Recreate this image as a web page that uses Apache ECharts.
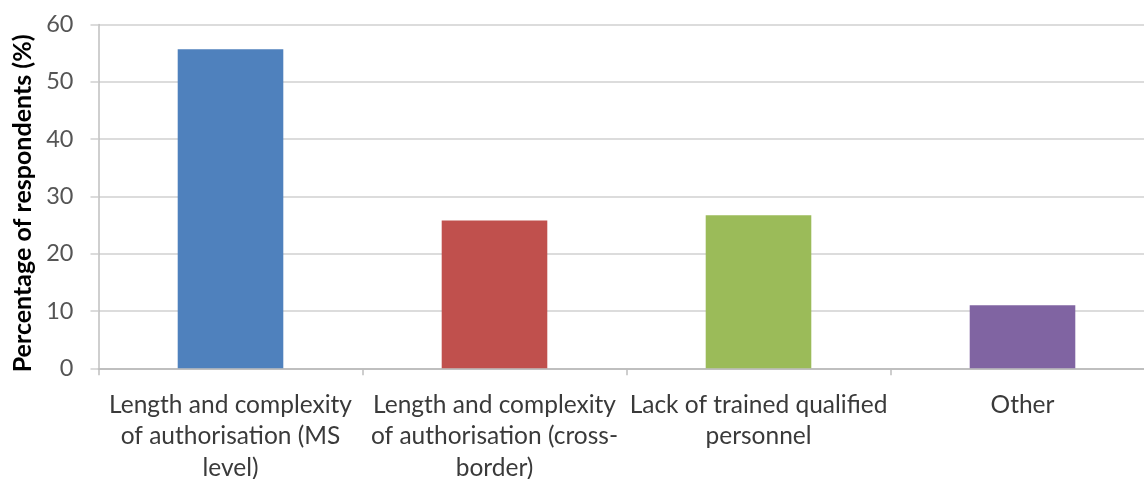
<!DOCTYPE html>
<html>
<head>
<meta charset="utf-8">
<style>
  html, body { margin: 0; padding: 0; background: #ffffff; }
  #chart { width: 1144px; height: 479px; }
</style>
<script src="https://cdn.jsdelivr.net/npm/echarts@6/dist/echarts.min.js"></script>
</head>
<body>
<div id="chart"></div>
<script>
// Obstacles reported by respondents
const categories = [
  'Length and complexity\nof authorisation (MS\nlevel)',
  'Length and complexity\nof authorisation (cross-\nborder)',
  'Lack of trained qualified\npersonnel',
  'Other'
];
const values = [55.7, 25.8, 26.7, 11];
const barColors = ['#4F81BD', '#C0504D', '#9BBB59', '#8064A2'];
const yTicks = { min: 0, max: 60, interval: 10 };
const yTitle = 'Percentage of respondents (%)';

const chart = echarts.init(document.getElementById('chart'), null, { renderer: 'canvas' });

const fontFamily = 'Lato, "Open Sans", "Liberation Sans", sans-serif';

chart.setOption({
  animation: false,
  backgroundColor: '#ffffff',
  // plot area runs slightly past the right edge of the canvas
  grid: {
    left: 98.5, width: 1056, top: 24.5, bottom: 110.7,
    containLabel: false,
    outerBoundsMode: 'none'
  },
  xAxis: {
    type: 'category',
    data: categories,
    boundaryGap: true,
    axisLine: { show: true, lineStyle: { color: '#bfbfbf', width: 2 } },
    axisTick: { show: true, alignWithLabel: false, length: 7, lineStyle: { color: '#bfbfbf', width: 1.5 } },
    axisLabel: {
      interval: 0,
      margin: 21,
      color: '#3a3a3a',
      fontSize: 24.5,
      lineHeight: 31.5,
      fontFamily: fontFamily
    }
  },
  yAxis: {
    type: 'value',
    min: yTicks.min,
    max: yTicks.max,
    interval: yTicks.interval,
    name: yTitle,
    nameLocation: 'middle',
    nameGap: 61,
    nameTextStyle: {
      color: '#000000',
      fontSize: 25,
      fontWeight: 'bold',
      fontFamily: fontFamily,
      padding: [0, 14, 0, 0]
    },
    axisLine: { show: true, lineStyle: { color: '#bfbfbf', width: 1.5 } },
    axisTick: { show: true, length: 8, lineStyle: { color: '#d0d0d0', width: 1.5 } },
    splitLine: { show: true, lineStyle: { color: '#d0d0d0', width: 1.5 } },
    axisLabel: {
      margin: 25,
      color: '#555555',
      fontSize: 23.5,
      fontFamily: fontFamily
    }
  },
  series: [{
    type: 'bar',
    barWidth: '40%',
    data: values.map((v, i) => ({
      value: v,
      itemStyle: { color: barColors[i] }
    }))
  }]
});
</script>
</body>
</html>
